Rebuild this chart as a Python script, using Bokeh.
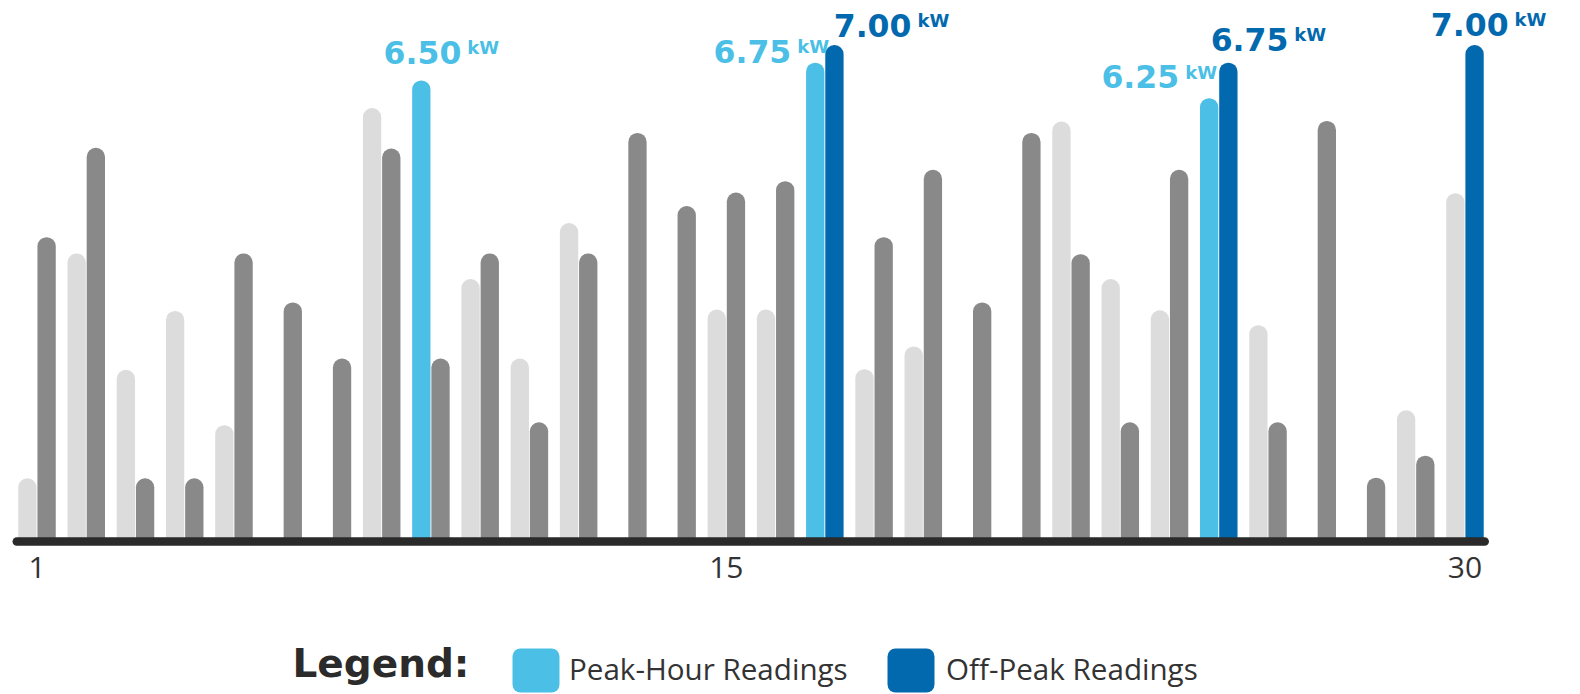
from bokeh.plotting import figure
from bokeh.models import ColumnDataSource, Range1d, FixedTicker
from bokeh.layouts import column
from bokeh.embed import file_html
from bokeh.resources import INLINE
from bokeh.core.properties import value
from bokeh.transform import dodge

# ---------------- data ----------------
days = list(range(1, 31))
peak = [0.89, 4.06, 2.42, 3.25, 1.64, 0, 0, 6.11, 6.50, 3.70,
        2.58, 4.49, 0, 0, 3.27, 3.27, 6.75, 2.43, 2.75, 0,
        0, 5.92, 3.70, 3.26, 6.25, 3.05, 0, 0, 1.85, 4.91]
off_peak = [4.29, 5.55, 0.89, 0.89, 4.06, 3.37, 2.58, 5.54, 2.58, 4.06,
            1.68, 4.06, 5.76, 4.73, 4.92, 5.08, 7.00, 4.29, 5.24, 3.37,
            5.76, 4.05, 1.68, 5.24, 6.75, 1.68, 5.93, 0.90, 1.21, 7.00]
peak_highlight_days = [9, 17, 25]
off_highlight_days = [17, 25, 30]
tick_days = [1, 15, 30]
unit = "kW"
legend_title = "Legend:"
legend_labels = ["Peak-Hour Readings", "Off-Peak Readings"]

# ---------------- styles ----------------
GREY_L = "#DCDCDC"
GREY_D = "#898989"
BLUE_L = "#4BBFE6"
BLUE_D = "#0369AE"
AXIS_C = "#2A2A2A"
TEXT_C = "#333333"

W = 1580
H_CHART = 620
H_LEG = 74
PX_PER_DAY = 49.24
PX_PER_KW = 70.93
FIRST_DAY_PX = 36.5      # x of day 1 centre
ZERO_PX = 541.0          # y of 0 kW
FRAME_H = 548
DODGE = 0.195
BAR_W = 0.372

# label offsets: (number right edge from bar centre, number baseline gap above bar top)
label_style = {("peak", 9): (40, 17), ("peak", 17): (-24, 0), ("peak", 25): (-30, 10),
               ("off", 17): (77, 8), ("off", 25): (60, 12), ("off", 30): (34, 9.5)}
NUM_HALF_CAP = 11.3
KW_MID_ABOVE_BASE = 16.1

x_start = days[0] - FIRST_DAY_PX / PX_PER_DAY
x_end = x_start + W / PX_PER_DAY
y_end = ZERO_PX / PX_PER_KW
y_start = -(FRAME_H - ZERO_PX) / PX_PER_KW

p = figure(width=W, height=H_CHART, x_range=Range1d(x_start, x_end), y_range=Range1d(y_start, y_end),
           output_backend="svg", toolbar_location=None, y_axis_location=None,
           min_border_left=0, min_border_right=0, min_border_top=0, min_border_bottom=H_CHART - FRAME_H)
p.outline_line_color = None
p.grid.visible = False
p.background_fill_color = "white"
p.border_fill_color = "white"

def series_source(vals, hl_days, c_norm, c_hl):
    d = [dd for dd, v in zip(days, vals) if v > 0]
    v = [vv for vv in vals if vv > 0]
    c = [c_hl if dd in hl_days else c_norm for dd in d]
    return ColumnDataSource(dict(day=d, val=v, color=c))

src_peak = series_source(peak, peak_highlight_days, GREY_L, BLUE_L)
src_off = series_source(off_peak, off_highlight_days, GREY_D, BLUE_D)

p.vbar(x=dodge("day", -DODGE, range=p.x_range), top="val", bottom=0, width=BAR_W,
       fill_color="color", line_color=None, border_radius=(9, 9, 0, 0), source=src_peak)
p.vbar(x=dodge("day", DODGE, range=p.x_range), top="val", bottom=0, width=BAR_W,
       fill_color="color", line_color=None, border_radius=(9, 9, 0, 0), source=src_off)

# baseline
p.segment(x0=[days[0] - 0.41], y0=[0], x1=[days[-1] + 0.40], y1=[0],
          line_width=8.6, line_cap="round", line_color=AXIS_C)

# value labels
lx, ly, txt, col, ndx, ndy, kdx, kdy = [], [], [], [], [], [], [], []
for key, (dx, dy) in label_style.items():
    series, d = key
    if series == "peak":
        v = peak[days.index(d)]; x = d - DODGE; c = BLUE_L
    else:
        v = off_peak[days.index(d)]; x = d + DODGE; c = BLUE_D
    lx.append(x); ly.append(v); txt.append(f"{v:.2f}"); col.append(c)
    ndx.append(dx); ndy.append(-dy - NUM_HALF_CAP)
    kdx.append(dx + 6); kdy.append(-dy - KW_MID_ABOVE_BASE)
lab_src = ColumnDataSource(dict(x=lx, y=ly, num=txt, kw=[unit] * len(lx), color=col,
                                ndx=ndx, ndy=ndy, kdx=kdx, kdy=kdy))
p.text(x="x", y="y", text="num", x_offset="ndx", y_offset="ndy", text_align="right",
       text_baseline="middle", text_font=value("DejaVu Sans"), text_font_style="bold",
       text_font_size="31.5px", text_color="color", source=lab_src)
p.text(x="x", y="y", text="kw", x_offset="kdx", y_offset="kdy", text_align="left",
       text_baseline="middle", text_font=value("DejaVu Sans"), text_font_style="bold",
       text_font_size="18px", text_color="color", source=lab_src)

# x axis tick labels
ax = p.xaxis[0]
ax.ticker = FixedTicker(ticks=tick_days)
ax.axis_line_color = None
ax.major_tick_line_color = None
ax.minor_tick_line_color = None
ax.major_tick_out = 0
ax.major_tick_in = 0
ax.major_label_standoff = 8
ax.major_label_text_font = "Open Sans"
ax.major_label_text_font_size = "30px"
ax.major_label_text_color = TEXT_C

# ---------------- legend ----------------
lg = figure(width=W, height=H_LEG, x_range=Range1d(0, W), y_range=Range1d(H_LEG, 0),
            output_backend="svg", toolbar_location=None, x_axis_location=None, y_axis_location=None,
            min_border=0)
lg.outline_line_color = None
lg.grid.visible = False
lg.background_fill_color = "white"
lg.border_fill_color = "white"

lg.text(x=[292], y=[42.8], text=[legend_title], text_font=value("DejaVu Sans"), text_font_style="bold",
        text_font_size="39px", text_color="#2B2B2B", text_baseline="middle")
sw_left = [512.0, 887.0]
sw_w = 47
lg.quad(left=sw_left, right=[s + sw_w for s in sw_left], top=[28, 28], bottom=[72, 72],
        fill_color=[BLUE_L, BLUE_D], line_color=None, border_radius=8)
lg.text(x=[568.5, 945.5], y=[48.4, 48.4], text=legend_labels,
        text_font=value("Open Sans"), text_font_size="29.6px", text_color=TEXT_C,
        text_baseline="middle")

layout = column(p, lg)
open("out.html", "w").write(file_html(layout, INLINE))
